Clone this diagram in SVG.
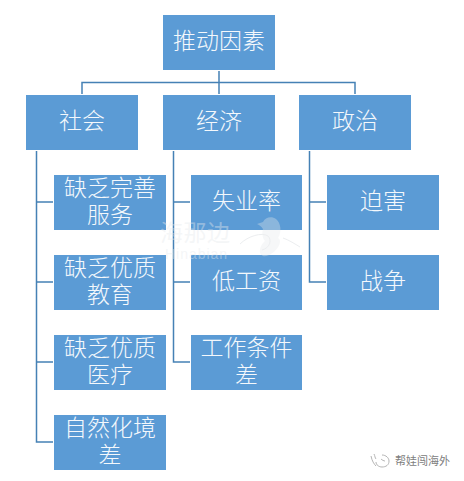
<svg xmlns="http://www.w3.org/2000/svg" width="464" height="481" viewBox="0 0 464 481">
<style>
.b{fill:#5b9bd5}
.t{font-family:"Noto Sans CJK SC","Noto Sans CJK JP",sans-serif;font-size:23px;font-weight:300;fill:#f4f8fc;text-anchor:middle}
.c{fill:none;stroke:#4581b5;stroke-width:1.5}
.w{font-family:"Noto Sans CJK SC",sans-serif;fill:#e6e9ec;fill-opacity:.42}
.f{font-family:"Noto Sans CJK SC",sans-serif;font-size:11px;fill:#808080}
</style>
<rect width="464" height="481" fill="#fff"/>
<g id="connectors" class="c">
<path d="M219 71V94M82 94V82.500H355V94"/>
<path d="M36.500 151V442H53M36.500 202H53M36.500 282H53M36.500 362H53"/>
<path d="M173.500 151V362H190M173.500 202H190M173.500 282H190"/>
<path d="M309.500 151V282H326M309.500 202H326"/>
</g>
<g id="n-root"><rect class="b" x="163" y="15" width="112" height="55"/><text class="t" x="219" y="49">推动因素</text></g>
<g id="n-social"><rect class="b" x="26" y="95" width="112" height="55"/><text class="t" x="82" y="129">社会</text></g>
<g id="n-economy"><rect class="b" x="163" y="95" width="112" height="55"/><text class="t" x="219" y="129">经济</text></g>
<g id="n-politics"><rect class="b" x="299" y="95" width="112" height="55"/><text class="t" x="355" y="129">政治</text></g>
<g id="n-s1"><rect class="b" x="54" y="175" width="112" height="55"/><text class="t" x="110" y="196">缺乏完善<tspan x="110" dy="27">服务</tspan></text></g>
<g id="n-s2"><rect class="b" x="54" y="255" width="112" height="55"/><text class="t" x="110" y="276">缺乏优质<tspan x="110" dy="27">教育</tspan></text></g>
<g id="n-s3"><rect class="b" x="54" y="335" width="112" height="55"/><text class="t" x="110" y="356">缺乏优质<tspan x="110" dy="27">医疗</tspan></text></g>
<g id="n-s4"><rect class="b" x="54" y="415" width="112" height="55"/><text class="t" x="110" y="436">自然化境<tspan x="110" dy="27">差</tspan></text></g>
<g id="n-e1"><rect class="b" x="191" y="175" width="111" height="55"/><text class="t" x="246.500" y="209">失业率</text></g>
<g id="n-e2"><rect class="b" x="191" y="255" width="111" height="55"/><text class="t" x="246.500" y="289">低工资</text></g>
<g id="n-e3"><rect class="b" x="191" y="335" width="111" height="55"/><text class="t" x="246.500" y="356">工作条件<tspan x="246.500" dy="27">差</tspan></text></g>
<g id="n-p1"><rect class="b" x="327" y="175" width="112" height="55"/><text class="t" x="383" y="209">迫害</text></g>
<g id="n-p2"><rect class="b" x="327" y="255" width="112" height="55"/><text class="t" x="383" y="289">战争</text></g>
<g id="watermark">
<text class="w" x="160" y="241" font-size="23" textLength="70">海那边</text>
<text class="w" x="165" y="259" font-size="14" textLength="62" style="font-family:'Liberation Sans',sans-serif">Hinabian</text>
<path d="M257 224L263 222C265 217 272 216 276 219C281 223 282 232 278 238C285 242 272 258 263 256C258 254 259 246 265 241C262 238 262 232 263 229C261 226 259 225 257 224Z" fill="#e6e9ec" fill-opacity=".35"/>
<path d="M240 244C248 236 262 232 268 236C272 240 270 248 262 250M283 238C289 240 295 244 300 247" fill="none" stroke="#eceef0" stroke-width="1"/>
</g>
<g id="footer">
<path d="M371 456C372 461 374 464 376 466M374 454C375 456 375 458 376 459M382 455C386 455 389 458 389 461C389 465 386 467 382 467C379 467 376 465 376 462M381 459C382 460 384 461 385 461" fill="none" stroke="#b5b5b5" stroke-width="1"/>
<text class="f" x="395" y="465">帮娃闯海外</text>
</g>
</svg>
